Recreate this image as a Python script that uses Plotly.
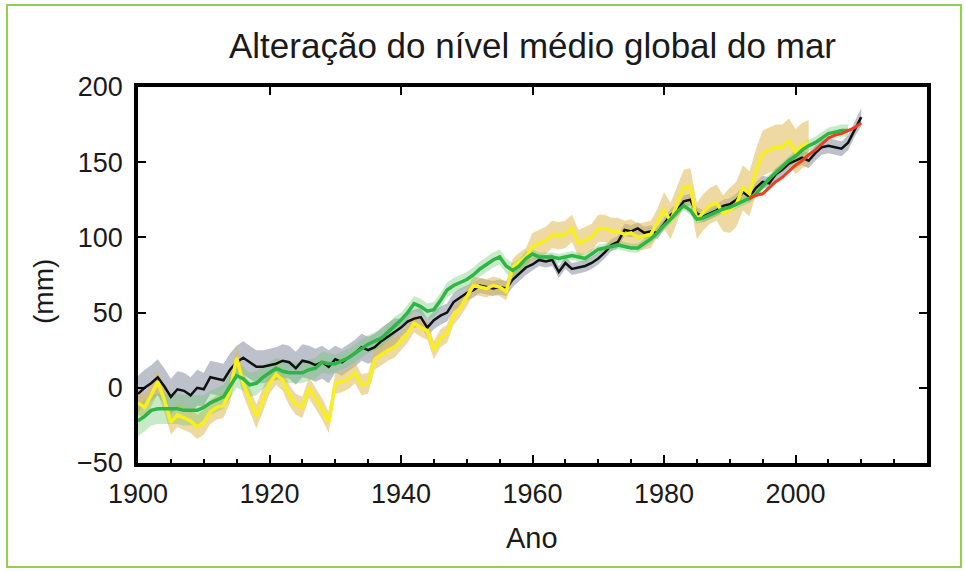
import plotly.graph_objects as go

# ---------------- data ----------------
years_black = list(range(1900, 2011))
black = [-4, 0, 3, 7, 1, -6, -1, -2, -5, 0,
         -1, 7, 6, 5, 12, 17, 20, 17, 14, 14,
         15, 16, 18, 17, 13, 18, 17, 15, 17, 14,
         19, 17, 20, 23, 27, 25, 27, 31, 34, 37,
         40, 44, 46, 47, 40, 45, 48, 50, 57, 60,
         63, 65, 68, 67, 66, 67, 66, 72, 76, 80,
         82, 85, 84, 85, 77, 83, 79, 80, 81, 83,
         86, 90, 95, 97, 105, 104, 106, 103, 104, 103,
         109, 115, 118, 124, 125, 116, 114, 116, 118, 121,
         122, 125, 130, 127, 133, 137, 136, 142, 145, 149,
         151, 153, 151, 156, 160, 161, 160, 159, 163, 172,
         180]
black_err_by_decade = [12, 11, 11, 9, 6, 5, 4, 4, 4, 4, 5, 6]

years_yellow = list(range(1900, 2003))
yellow = [-10, -13, -5, 4, -8, -23, -18, -20, -22, -26,
          -23, -16, -13, -12, -2, 20, 3, -8, -19, -8,
          3, 9, 5, -5, -11, -13, 0, -7, -14, -23,
          3, 4, 6, 10, 2, 3, 19, 22, 25, 27,
          31, 36, 43, 40, 38, 25, 33, 36, 48, 53,
          60, 68, 67, 66, 68, 67, 64, 80, 84, 87,
          94, 96, 98, 102, 101, 102, 106, 96, 98, 100,
          106, 106, 104, 104, 102, 103, 100, 101, 102, 110,
          118, 111, 122, 133, 134, 111, 117, 121, 123, 116,
          118, 122, 133, 129, 144, 156, 158, 160, 160, 164,
          157, 161, 163]
yellow_err_by_decade = [8, 8, 7, 7, 6, 6, 9, 9, 12, 15, 15]

years_green = list(range(1900, 2009))
green = [-22, -19, -15, -14, -14, -14, -14, -15, -15, -15,
         -13, -10, -8, -6, 1, 8, 6, 2, 3, 7,
         10, 13, 11, 10, 10, 10, 12, 13, 17, 16,
         16, 18, 20, 23, 26, 29, 31, 33, 37, 41,
         45, 50, 56, 54, 51, 52, 58, 65, 68, 70,
         72, 75, 79, 82, 85, 87, 81, 78, 81, 86,
         89, 87, 87, 87, 86, 87, 88, 87, 86, 89,
         92, 93, 94, 95, 94, 93, 93, 96, 99, 103,
         108, 112, 117, 121, 118, 112, 113, 115, 117, 119,
         120, 122, 124, 126, 129, 134, 139, 143, 147, 151,
         154, 158, 161, 163, 166, 169, 170, 171, 171]
green_err_by_decade = [10, 8, 7, 6, 5, 5, 3, 3, 3, 3, 4]

years_red = list(range(1993, 2011))
red = [126, 128, 129, 133, 137, 140, 144, 148, 151, 155,
       158, 162, 166, 168, 169, 171, 173, 176]

x_major = [1900, 1920, 1940, 1960, 1980, 2000]
y_ticks = [-50, 0, 50, 100, 150, 200]

title_text = "Alteração do nível médio global do mar"
x_title = "Ano"
y_title = "(mm)"

# ---------------- helpers ----------------
def band(xs, ys, errs_by_decade):
    errs = [errs_by_decade[(x - 1900) // 10] for x in xs]
    upper = [y + e for y, e in zip(ys, errs)]
    lower = [y - e for y, e in zip(ys, errs)]
    return xs + xs[::-1], upper + lower[::-1]

FONT = "Liberation Sans, Arial, sans-serif"

fig = go.Figure()

# uncertainty bands
for xs, ys, errs, col in [
    (years_black, black, black_err_by_decade, "rgba(135,142,160,0.55)"),
    (years_yellow, yellow, yellow_err_by_decade, "rgba(225,185,85,0.55)"),
    (years_green, green, green_err_by_decade, "rgba(110,200,110,0.38)"),
]:
    bx, by = band(xs, ys, errs)
    fig.add_trace(go.Scatter(x=bx, y=by, fill="toself", fillcolor=col,
                             line=dict(width=0), mode="lines",
                             hoverinfo="skip", showlegend=False))

# lines
fig.add_trace(go.Scatter(x=years_black, y=black, mode="lines",
                         line=dict(color="#111111", width=2.5), showlegend=False))
fig.add_trace(go.Scatter(x=years_yellow, y=yellow, mode="lines",
                         line=dict(color="#f7ef1e", width=3.5), showlegend=False))
fig.add_trace(go.Scatter(x=years_green, y=green, mode="lines",
                         line=dict(color="#2eb548", width=3.5), showlegend=False))
fig.add_trace(go.Scatter(x=years_red, y=red, mode="lines",
                         line=dict(color="#ea3f25", width=3), showlegend=False))

# invisible trace so the top (mirror) axis is drawn
fig.add_trace(go.Scatter(x=[x_major[0]], y=[None], xaxis="x2", yaxis="y",
                         mode="lines", showlegend=False, hoverinfo="skip"))

fig.update_layout(
    width=965, height=571,
    margin=dict(l=138, r=38, t=87, b=108),
    paper_bgcolor="white", plot_bgcolor="white",
    font=dict(family=FONT, color="#1a1a1a"),
    showlegend=False,
    xaxis=dict(range=[1900, 2020], tickvals=x_major,
               ticks="inside", ticklen=8, tickwidth=2, tickcolor="black",
               minor=dict(dtick=5, tick0=1900, ticks="inside", ticklen=4,
                          tickwidth=2, tickcolor="black"),
               showline=True, linecolor="black", linewidth=3.5, mirror=True,
               showgrid=False, zeroline=False, ticklabelstandoff=4,
               tickfont=dict(size=27, family=FONT, color="#1a1a1a")),
    xaxis2=dict(range=[1900, 2020], overlaying="x", side="top",
                tickvals=x_major, ticks="inside", ticklen=8, tickwidth=2,
                tickcolor="black", showticklabels=False, showgrid=False,
                zeroline=False, showline=False),
    yaxis=dict(range=[-50, 200], tickvals=y_ticks,
               ticks="inside", ticklen=8, tickwidth=2, tickcolor="black",
               showline=True, linecolor="black", linewidth=3.5, mirror="ticks",
               showgrid=False, zeroline=False, ticklabelstandoff=6,
               tickfont=dict(size=27, family=FONT, color="#1a1a1a")),
    annotations=[
        dict(text=title_text, xref="paper", yref="paper", x=0.5, y=(463 - 45) / 376,
             xanchor="center", yanchor="middle", showarrow=False,
             font=dict(size=35, family=FONT, color="#1a1a1a")),
        dict(text=x_title, xref="paper", yref="paper", x=(532 - 138) / 789,
             y=(463 - 538) / 376, xanchor="center", yanchor="middle",
             showarrow=False, font=dict(size=29, family=FONT, color="#1a1a1a")),
        dict(text=y_title, xref="paper", yref="paper", x=(43 - 138) / 789,
             y=(463 - 292) / 376, xanchor="center", yanchor="middle",
             textangle=-90, showarrow=False,
             font=dict(size=28, family=FONT, color="#1a1a1a")),
    ],
    shapes=[
        dict(type="rect", xref="paper", yref="paper",
             x0=(7 - 138) / 789, x1=(961 - 138) / 789,
             y0=(463 - 567) / 376, y1=(463 - 5) / 376,
             line=dict(color="#92d050", width=2), fillcolor="rgba(0,0,0,0)",
             layer="below"),
    ],
)

fig.write_html("out.html")
